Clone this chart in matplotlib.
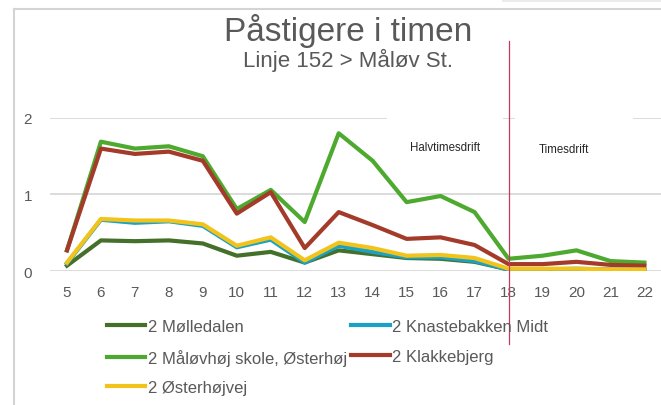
import matplotlib

matplotlib.use("Agg")
import matplotlib.pyplot as plt
from matplotlib.lines import Line2D
from matplotlib.patches import Rectangle

plt.rcParams["font.family"] = ["Liberation Sans", "DejaVu Sans"]

hours = [5, 6, 7, 8, 9, 10, 11, 12, 13, 14, 15, 16, 17, 18, 19, 20, 21, 22]

# passengers boarding per hour
molledalen = [0.07, 0.40, 0.39, 0.40, 0.36, 0.20, 0.25, 0.11, 0.27, 0.22,
              0.17, 0.16, 0.12, 0.02, 0.02, 0.02, 0.01, 0.01]
knastebakken = [0.10, 0.67, 0.63, 0.65, 0.59, 0.31, 0.41, 0.11, 0.33, 0.25,
                0.18, 0.18, 0.13, 0.02, 0.02, 0.03, 0.02, 0.02]
malovhoj = [0.27, 1.69, 1.60, 1.63, 1.50, 0.81, 1.06, 0.64, 1.80, 1.44,
            0.90, 0.98, 0.77, 0.16, 0.20, 0.27, 0.13, 0.11]
klakkebjerg = [0.27, 1.60, 1.53, 1.56, 1.44, 0.75, 1.03, 0.30, 0.77, 0.60,
               0.42, 0.44, 0.34, 0.09, 0.09, 0.12, 0.08, 0.07]
osterhojvej = [0.11, 0.68, 0.66, 0.66, 0.61, 0.33, 0.44, 0.14, 0.37, 0.30,
               0.20, 0.21, 0.17, 0.03, 0.03, 0.03, 0.02, 0.02]

series = [
    ("2 Mølledalen", molledalen, "#44702A"),
    ("2 Knastebakken Midt", knastebakken, "#1BA1C6"),
    ("2 Måløvhøj skole, Østerhøj", malovhoj, "#4DAA2F"),
    ("2 Klakkebjerg", klakkebjerg, "#A33A2A"),
    ("2 Østerhøjvej", osterhojvej, "#F2C31A"),
]

shift_hour = 18
text_gray = "#595959"

fig = plt.figure(figsize=(6.61, 4.06), dpi=100)
ax = fig.add_axes([0.0756, 0.330, 0.925, 0.377])

lines = {}
for name, vals, color in series:
    (ln,) = ax.plot(hours, vals, color=color, linewidth=3.0,
                    solid_joinstyle="round", label=name, zorder=3)
    lines[name] = ln

ax.set_xlim(hours[0] - 0.5, hours[-1] + 0.5)
ax.set_ylim(0, 2)
ax.set_xticks(hours)
ax.set_yticks([0, 1, 2])
ax.grid(axis="y", color="#D9D9D9", linewidth=1.3, zorder=0)
ax.set_axisbelow(True)
for sp in ax.spines.values():
    sp.set_visible(False)
ax.tick_params(length=0, labelsize=11, colors=text_gray, pad=10)
ax.tick_params(axis="y", pad=13)

# white text boxes for the two service periods
ax.add_patch(Rectangle((14.41, 1.3), 3.44, 0.8, facecolor="white",
                       edgecolor="none", clip_on=False, zorder=1.5))
ax.add_patch(Rectangle((18.18, 1.3), 3.47, 0.8, facecolor="white",
                       edgecolor="none", clip_on=False, zorder=1.5))
ax.text(16.12, 1.62, "Halvtimesdrift", fontsize=8.3, color="#262626",
        ha="center", va="center", zorder=5)
ax.text(19.62, 1.59, "Timesdrift", fontsize=8.3, color="#262626",
        ha="center", va="center", zorder=5)

# red divider where service changes
ax.axvline(shift_hour, ymin=-0.48, ymax=1.5, color="#C23A5E", linewidth=0.9,
           clip_on=False, zorder=6)

fig.text(0.5265, 0.899, "Påstigere i timen", fontsize=24, color=text_gray,
         ha="center", va="baseline")
fig.text(0.5265, 0.8357, "Linje 152 > Måløv St.", fontsize=16, color=text_gray,
         ha="center", va="baseline")

order = ["2 Mølledalen", "2 Måløvhøj skole, Østerhøj", "2 Østerhøjvej",
         "2 Knastebakken Midt", "2 Klakkebjerg"]
fig.legend([lines[n] for n in order], order, loc="upper left",
           bbox_to_anchor=(0.162, 0.212), ncol=2, frameon=False,
           fontsize=12, labelcolor=text_gray, handlelength=2.3,
           handletextpad=0.15, columnspacing=0.25, labelspacing=0.88,
           borderpad=0, borderaxespad=0)

# screenshot frame
fig.add_artist(Line2D([14 / 661, 14 / 661], [0, 1 - 10 / 406],
                      color="#D4D4D4", linewidth=1.5))
fig.add_artist(Line2D([14 / 661, 1], [1 - 10 / 406, 1 - 10 / 406],
                      color="#D4D4D4", linewidth=1.5))
fig.add_artist(Rectangle((502 / 661, 1 - 3 / 406), 159 / 661, 3 / 406,
                         transform=fig.transFigure, facecolor="#EBEBEB",
                         edgecolor="none"))

fig.savefig("out.png", dpi=100)
